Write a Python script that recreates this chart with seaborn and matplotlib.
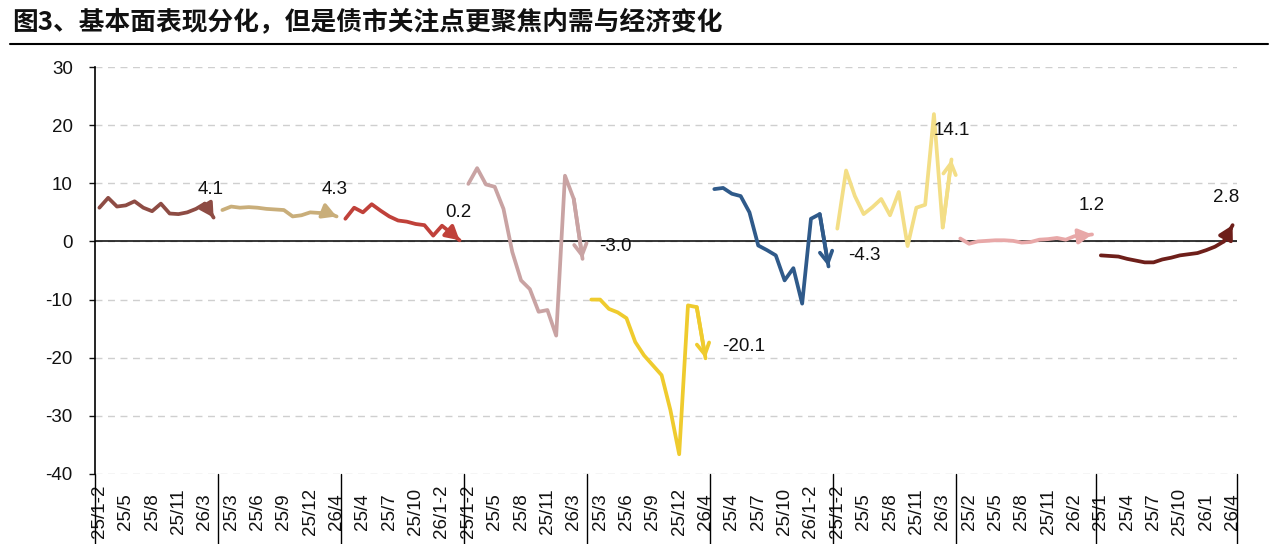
import pandas as pd
import numpy as np
import seaborn as sns
import matplotlib.pyplot as plt
from matplotlib.lines import Line2D
import matplotlib.transforms as mtransforms

##### 数据
months_a = ["25/1-2", "25/3", "25/4", "25/5", "25/6", "25/7", "25/8", "25/9",
            "25/10", "25/11", "25/12", "26/1-2", "26/3", "26/4"]
months_b = ["25/1", "25/2", "25/3", "25/4", "25/5", "25/6", "25/7", "25/8",
            "25/9", "25/10", "25/11", "25/12", "26/1", "26/2", "26/3", "26/4"]

s1 = [5.8, 7.5, 6.0, 6.2, 6.9, 5.8, 5.2, 6.5, 4.8, 4.7, 5.0, 5.6, 6.5, 4.1]
s2 = [5.4, 6.0, 5.8, 5.9, 5.8, 5.6, 5.5, 5.4, 4.3, 4.5, 5.0, 4.9, 4.9, 4.3]
s3 = [3.9, 5.8, 5.0, 6.4, 5.3, 4.3, 3.6, 3.4, 3.0, 2.8, 1.0, 2.7, 1.5, 0.2]
s4 = [9.9, 12.6, 9.8, 9.4, 5.6, -1.8, -6.7, -8.2, -12.1, -11.8, -16.2, 11.3, 7.3, -3.0]
s5 = [-10.0, -10.0, -11.6, -12.2, -13.2, -17.3, -19.6, -21.3, -23.0, -29.0, -36.6, -11.0, -11.3, -20.1]
s6 = [9.0, 9.2, 8.2, 7.8, 5.0, -0.7, -1.5, -2.4, -6.7, -4.6, -10.7, 3.9, 4.7, -4.3]
s7 = [2.2, 12.2, 7.8, 4.7, 5.9, 7.3, 4.5, 8.5, -0.8, 5.8, 6.3, 21.9, 2.4, 14.1]
s8 = [0.5, -0.4, 0.0, 0.1, 0.2, 0.2, 0.1, -0.2, -0.1, 0.3, 0.4, 0.6, 0.3, 0.9, 1.0, 1.2]
s9 = [-2.4, -2.5, -2.6, -3.0, -3.3, -3.6, -3.6, -3.1, -2.8, -2.4, -2.2, -2.0, -1.5, -0.9, 0.0, 2.8]

series = [s1, s2, s3, s4, s5, s6, s7, s8, s9]
cats = [months_a] * 7 + [months_b] * 2
yticks = [30, 20, 10, 0, -10, -20, -30, -40]

colors = ["#8E4C44", "#C9AE7A", "#C0413A", "#C9A3A3", "#EFCB2E",
          "#2F5A8A", "#F3DE86", "#E8A8A8", "#6E1F1A"]
arrow_st = ["-|>", "-|>", "-|>", "->", "->", "->", "->", "-|>", "-|>"]
# 标签位置: (dx, dy, ha)
lab_pos = [(-3, 28, "center"), (-2, 27, "center"), (-1, 28, "center"),
           (17, 12, "left"), (17, 12, "left"), (20, 11, "left"),
           (0, 29, "center"), (0, 29, "center"), (-6, 28, "center")]

rows = []
pos = 0
for k, (vals, cat) in enumerate(zip(series, cats)):
    for j, (c, v) in enumerate(zip(cat, vals)):
        rows.append({"idx": pos + j, "month": c, "value": v, "grp": "g%d" % k})
    pos += len(cat)
df = pd.DataFrame(rows)
n_total = len(df)

sns.set_theme(style="white")
plt.rcParams["font.family"] = ["Liberation Sans", "Noto Sans CJK SC", "DejaVu Sans"]
plt.rcParams["axes.unicode_minus"] = False

fig = plt.figure(figsize=(12.8, 5.44), dpi=100)
ax = fig.add_axes([95 / 1280, 1 - 474 / 544, (1237 - 95) / 1280, (474 - 67) / 544])

grp_names = ["g%d" % k for k in range(len(series))]
sns.lineplot(data=df, x="idx", y="value", hue="grp", hue_order=grp_names,
             palette=dict(zip(grp_names, colors)), legend=False,
             linewidth=2.7, estimator=None, sort=False, ax=ax)

# 箭头和末值标签
for k, g in enumerate(grp_names):
    sub = df[df.grp == g]
    x0, y0 = sub.idx.iloc[-2], sub.value.iloc[-2]
    x1, y1 = sub.idx.iloc[-1], sub.value.iloc[-1]
    ax.annotate("", xy=(x1, y1), xytext=(x0, y0),
                arrowprops=dict(arrowstyle=arrow_st[k] + ",head_length=0.5,head_width=0.28",
                                color=colors[k], lw=2.7, shrinkA=0, shrinkB=0,
                                mutation_scale=16))
    dx, dy, ha = lab_pos[k]
    ax.annotate("%.1f" % y1, xy=(x1, y1), xytext=(dx, dy), textcoords="offset pixels",
                ha=ha, va="center", fontsize=13.5, color="#111111")

ax.set_xlim(-0.5, n_total - 0.5)
ax.set_ylim(-40, 30)
ax.set_yticks(yticks)
ax.set_yticklabels([str(t) for t in yticks])
ax.yaxis.grid(True, linestyle=(0, (5, 4)), color="#CFCFCF", linewidth=1.0)
ax.xaxis.grid(False)
ax.axhline(0, color="black", lw=1.1, zorder=1)

ax.set_xticks(df.idx[::3])
ax.set_xticklabels(df.month[::3], rotation=90, va="center", ha="center")
ax.tick_params(axis="x", length=0, pad=27, labelsize=13.5, colors="#111111")
ax.tick_params(axis="y", direction="out", length=4, width=1, pad=12,
               labelsize=13.5, colors="#111111", left=True)
ax.set_xlabel("")
ax.set_ylabel("")

for side in ["top", "right", "bottom"]:
    ax.spines[side].set_visible(False)
ax.spines["left"].set_color("black")
ax.spines["left"].set_linewidth(1.2)

# 分组分隔线
trans = mtransforms.blended_transform_factory(ax.transData, ax.transAxes)
bounds = [-0.5]
for cat in cats:
    bounds.append(bounds[-1] + len(cat))
for b in bounds:
    ax.plot([b, b], [0, -0.2], transform=trans, color="black", lw=1.0, clip_on=False)

# 标题
fig.text(12 / 1280, 1 - 23 / 544, "图3、基本面表现分化，但是债市关注点更聚焦内需与经济变化",
         fontsize=18.5, fontweight="bold", va="center", ha="left",
         family=["Noto Sans CJK SC", "DejaVu Sans"], color="#111111")
fig.add_artist(Line2D([10 / 1280, 1268 / 1280], [1 - 44 / 544, 1 - 44 / 544],
                      color="black", lw=1.5))

fig.savefig("out.png", dpi=100)
